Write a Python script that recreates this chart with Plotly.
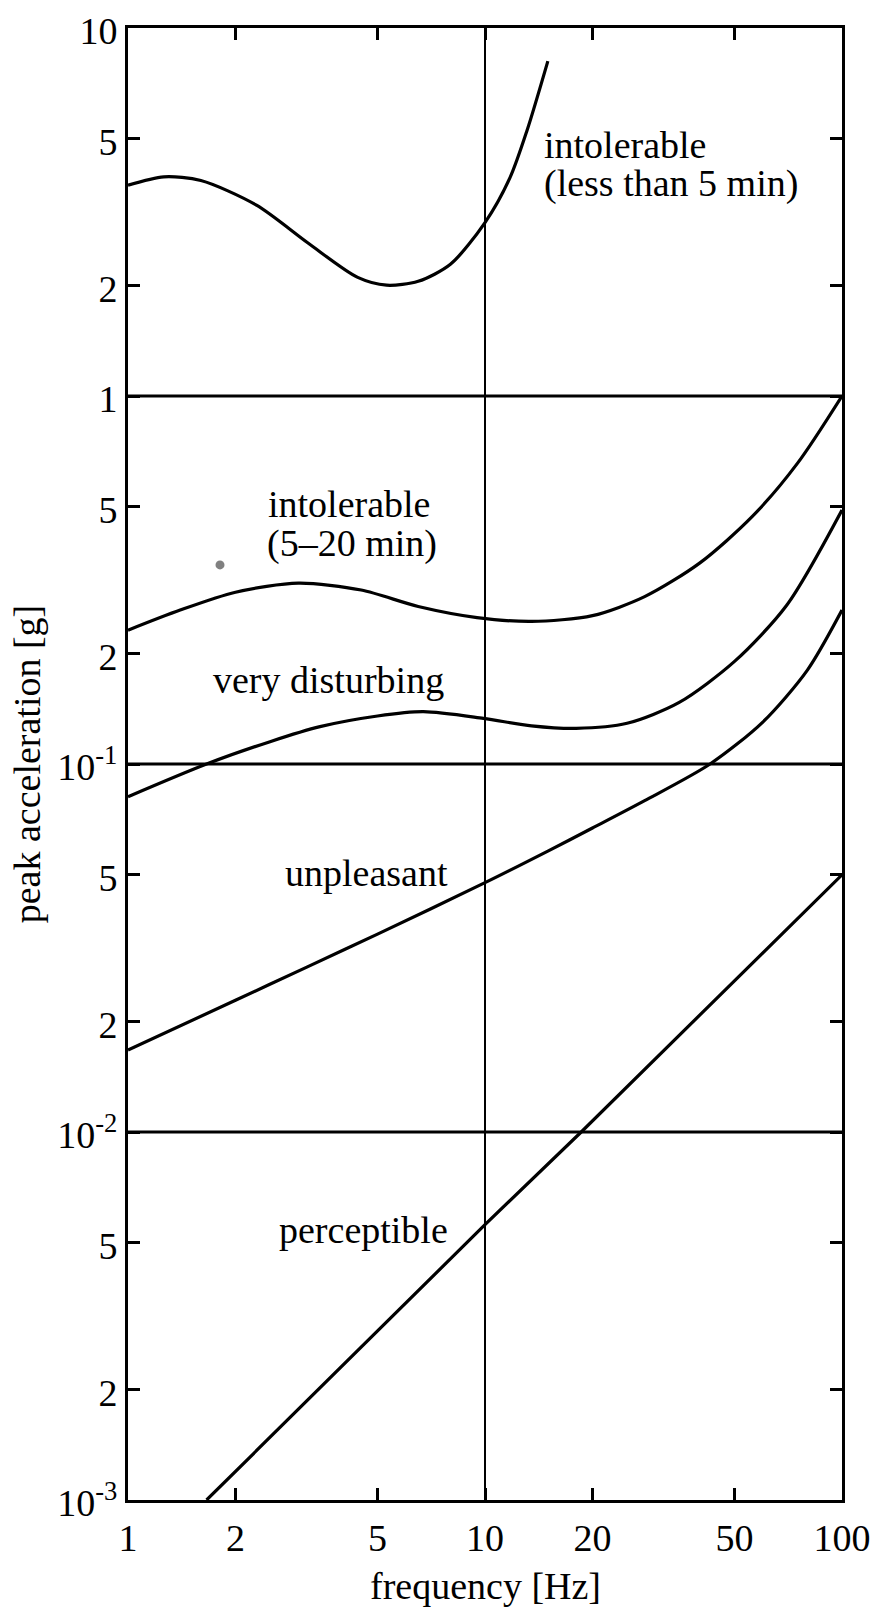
import plotly.graph_objects as go

# ---- data ----
f_intol5 = [1, 1.26, 1.6, 2.29, 3.2, 4.4, 5.3, 6.5, 8.0, 10, 11.75, 13.1, 15.0]
a_intol5 = [3.74, 3.94, 3.85, 3.30, 2.60, 2.10, 2.0, 2.05, 2.28, 2.96, 3.92, 5.25, 8.13]

f_intol20 = [1, 1.4, 2, 3, 4.5, 6.5, 9.5, 13.5, 20, 28, 40, 56, 75, 100]
a_intol20 = [0.231, 0.262, 0.293, 0.310, 0.297, 0.268, 0.250, 0.244, 0.253, 0.285, 0.352, 0.47, 0.656, 1.0]

f_disturb = [1, 1.66, 2.5, 3.45, 5, 6.72, 9.9, 13.5, 18, 25, 35, 50, 70, 100]
a_disturb = [0.0815, 0.1, 0.115, 0.1263, 0.135, 0.1387, 0.133, 0.127, 0.125, 0.129, 0.147, 0.19, 0.27, 0.49]

f_unpleasant = [1, 2, 3.18, 5, 10, 15, 20, 28, 42.7, 60, 80, 100]
a_unpleasant = [0.0167, 0.0228, 0.0281, 0.0345, 0.0476, 0.058, 0.067, 0.0795, 0.1, 0.13, 0.18, 0.262]

f_percept = [1.66, 10, 18.6, 100]
a_percept = [0.001, 0.0056, 0.01, 0.05]

dot_f = [1.81]
dot_a = [0.3475]

h_levels = [1, 0.1, 0.01]
v_level = 10
x_range = [1, 100]
y_range = [0.001, 10]

x_tickvals = [1, 2, 5, 10, 20, 50, 100]
x_ticktext = ["1", "2", "5", "10", "20", "50", "100"]
y_tickvals = [0.001, 0.002, 0.005, 0.01, 0.02, 0.05, 0.1, 0.2, 0.5, 1, 2, 5, 10]
y_ticktext = ["10<sup>-3</sup>", "2", "5", "10<sup>-2</sup>", "2", "5",
              "10<sup>-1</sup>", "2", "5", "1", "2", "5", "10"]

labels = [
    ("intolerable", 544, 145, "left"),
    ("(less than 5 min)", 544, 183, "left"),
    ("intolerable", 268, 504, "left"),
    ("(5–20 min)", 267, 544, "left"),
    ("very disturbing", 213, 680, "left"),
    ("unpleasant", 448, 873, "right"),
    ("perceptible", 448, 1230, "right"),
]
x_title = "frequency [Hz]"
y_title = "peak acceleration [g]"

FONT = "Liberation Serif, Times New Roman, serif"
FS = 38
W, H = 870, 1610
L, R, T, B = 128, 842, 28, 1500

fig = go.Figure()

for yv in h_levels:
    fig.add_trace(go.Scatter(x=x_range, y=[yv, yv], mode="lines",
                             line=dict(color="black", width=3), hoverinfo="skip"))
fig.add_trace(go.Scatter(x=[v_level, v_level], y=y_range, mode="lines",
                         line=dict(color="black", width=2), hoverinfo="skip"))

for fx, ay in [(f_intol5, a_intol5), (f_intol20, a_intol20), (f_disturb, a_disturb),
               (f_unpleasant, a_unpleasant)]:
    fig.add_trace(go.Scatter(x=fx, y=ay, mode="lines",
                             line=dict(color="black", width=3.2, shape="spline", smoothing=0.8)))
fig.add_trace(go.Scatter(x=f_percept, y=a_percept, mode="lines",
                         line=dict(color="black", width=3.2)))

fig.add_trace(go.Scatter(x=dot_f, y=dot_a, mode="markers",
                         marker=dict(color="#808080", size=9)))

for txt, px, py, anchor in labels:
    fig.add_annotation(text=txt, xref="paper", yref="paper",
                       x=(px - L) / (R - L), y=(B - py) / (B - T),
                       xanchor=anchor, yanchor="middle", showarrow=False,
                       borderpad=0, borderwidth=0,
                       font=dict(family=FONT, size=FS, color="black"))

# x-axis title (placed as annotation for exact vertical position)
fig.add_annotation(text=x_title, xref="paper", yref="paper",
                   x=0.5, y=(B - 1586) / (B - T), xanchor="center", yanchor="middle",
                   showarrow=False, borderpad=0, borderwidth=0,
                   font=dict(family=FONT, size=FS, color="black"))

axis_common = dict(type="log", showline=True, linewidth=3, linecolor="black",
                   mirror="allticks", ticks="inside", ticklen=12, tickwidth=2.5,
                   tickcolor="black", showgrid=False, zeroline=False,
                   ticklabeloverflow="allow",
                   tickfont=dict(family=FONT, size=FS, color="black"))

fig.update_xaxes(range=[0, 2], tickvals=x_tickvals, ticktext=x_ticktext,
                 ticklabelstandoff=2, **axis_common)
fig.update_yaxes(range=[-3, 1], tickvals=y_tickvals, ticktext=y_ticktext,
                 ticklabelshift=3,
                 title=dict(text=y_title, font=dict(family=FONT, size=FS, color="black"),
                            standoff=5),
                 **axis_common)

fig.update_layout(width=W, height=H, showlegend=False,
                  margin=dict(l=L, r=W - R, t=T, b=H - B, autoexpand=False),
                  plot_bgcolor="white", paper_bgcolor="white")

fig.write_html("out.html", config={"displayModeBar": False},
               post_script="document.body.style.margin='0';document.body.style.overflow='hidden';")
